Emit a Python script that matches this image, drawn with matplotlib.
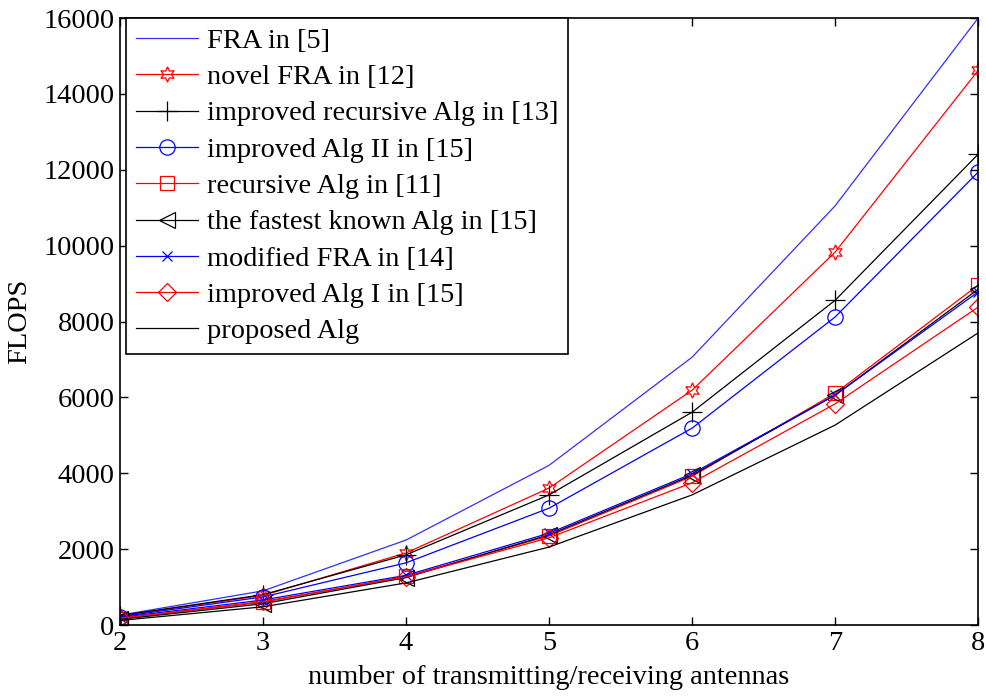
import matplotlib
matplotlib.use("Agg")
import matplotlib.pyplot as plt

plt.rcParams['font.family'] = ['Liberation Serif', 'DejaVu Serif']

antennas = [2, 3, 4, 5, 6, 7, 8]

fra_5 = [260, 900, 2240, 4210, 7060, 11050, 16000]
novel_fra_12 = [240, 780, 1900, 3610, 6190, 9830, 14620]
impr_recursive_13 = [250, 800, 1850, 3430, 5610, 8560, 12410]
impr_alg2_15 = [220, 740, 1640, 3080, 5190, 8120, 11940]
recursive_11 = [170, 600, 1280, 2350, 3920, 6110, 8960]
fastest_15 = [150, 560, 1250, 2380, 3950, 6060, 8850]
modified_fra_14 = [200, 660, 1310, 2420, 3990, 6060, 8780]
impr_alg1_15 = [180, 620, 1270, 2300, 3750, 5830, 8380]
proposed = [120, 480, 1110, 2055, 3430, 5270, 7700]

labels = ["FRA in [5]", "novel FRA in [12]", "improved recursive Alg in [13]",
          "improved Alg II in [15]", "recursive Alg in [11]",
          "the fastest known Alg in [15]", "modified FRA in [14]",
          "improved Alg I in [15]", "proposed Alg"]

series = [fra_5, novel_fra_12, impr_recursive_13, impr_alg2_15, recursive_11,
          fastest_15, modified_fra_14, impr_alg1_15, proposed]

# (color, marker, markersize)
styles = [("#3030ff", None, 0),
          ("red", (6, 1, 0), 11),
          ("black", "+", 14),
          ("blue", "o", 11),
          ("red", "s", 10),
          ("black", "<", 11),
          ("blue", "x", 7),
          ("red", "D", 9),
          ("black", None, 0)]

fs = 20.4

fig = plt.figure(figsize=(9.87, 6.96), dpi=100)
ax = fig.add_axes([0.1216, 0.102, 0.8694, 0.872])

for y, lab, (c, m, ms) in zip(series, labels, styles):
    ax.plot(antennas, y, color=c, marker=m, markersize=ms, linewidth=0.9,
            markerfacecolor='none', markeredgecolor=c, markeredgewidth=0.9,
            label=lab)

ax.set_xlim(2, 8)
ax.set_ylim(0, 16000)
ax.set_xticks(antennas)
ax.set_yticks(range(0, 16001, 2000))
ax.tick_params(direction='in', length=6, width=1, top=True, right=True,
               labelsize=fs, pad=4)
for s in ax.spines.values():
    s.set_linewidth(1.2)

ax.set_xlabel("number of transmitting/receiving antennas", fontsize=fs, labelpad=7)
ax.set_ylabel("FLOPS", fontsize=fs, labelpad=8)

leg = ax.legend(loc='upper left', bbox_to_anchor=(0.007, 1.0), borderaxespad=0,
                fontsize=fs, fancybox=False, framealpha=1, edgecolor='black',
                handlelength=2.2, handletextpad=0.3, labelspacing=0.37,
                borderpad=0.35)
leg.get_frame().set_linewidth(1.2)

fig.savefig("out.png", dpi=100)
